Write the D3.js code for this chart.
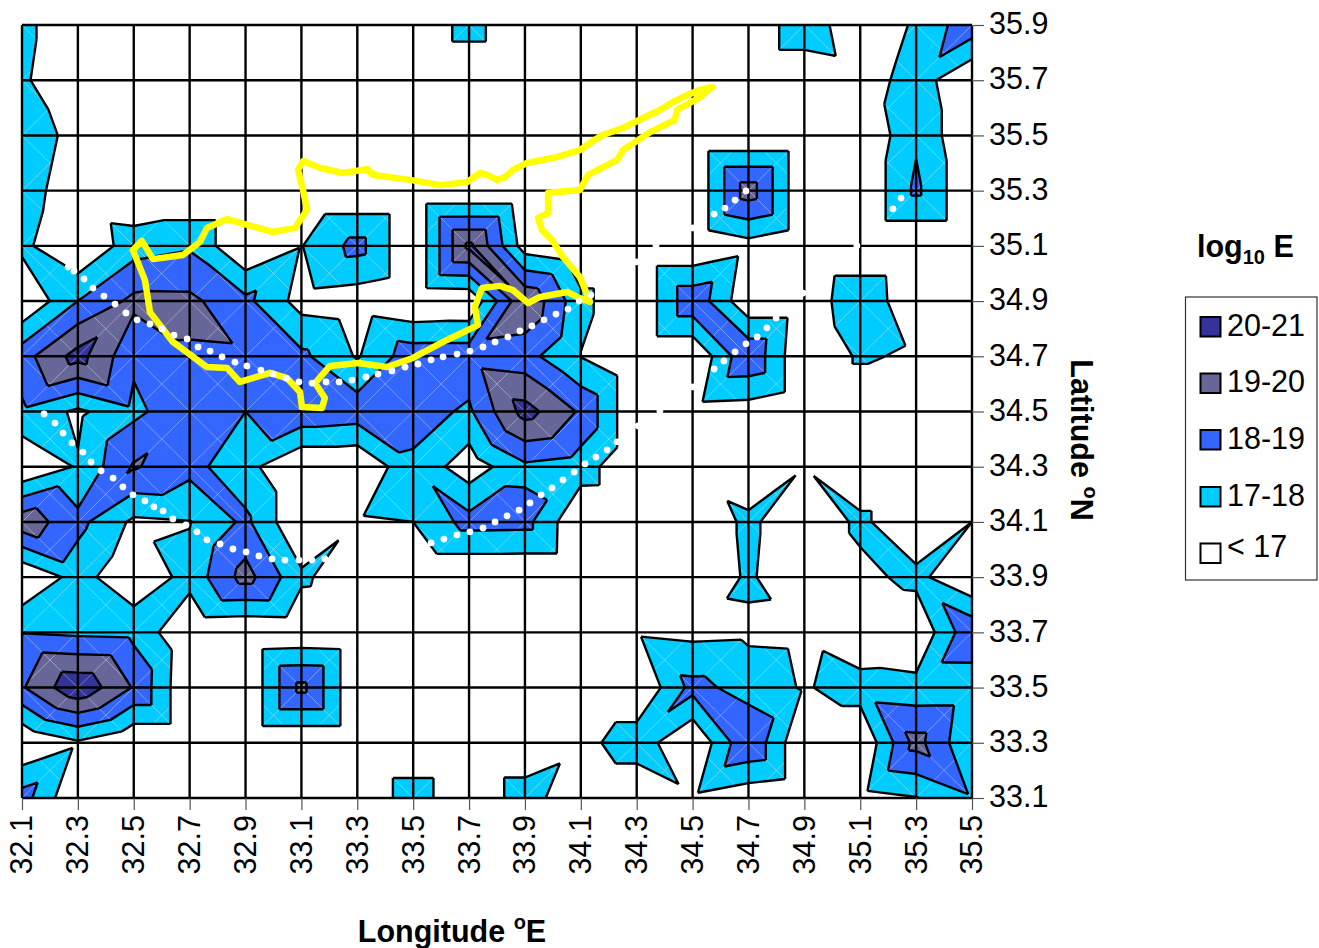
<!DOCTYPE html>
<html><head><meta charset="utf-8">
<script src="https://cdn.jsdelivr.net/npm/d3@7"></script>
<style>html,body{margin:0;padding:0;background:#fff}svg{display:block}text{font-family:"Liberation Sans",Arial,sans-serif;fill:#000}</style>
</head><body><div id="chart"></div>
<script>
const longitudes=[32.1,32.3,32.5,32.7,32.9,33.1,33.3,33.5,33.7,33.9,34.1,34.3,34.5,34.7,34.9,35.1,35.3,35.5];
const latitudes=[35.9,35.7,35.5,35.3,35.1,34.9,34.7,34.5,34.3,34.1,33.9,33.7,33.5,33.3,33.1];
const logE=[
[17.35,16,16,16,16,16,16,16,17.43,16,16,16,16,16,17.82,16,17.17,18.63],
[17.18,16,16,16,16,16,16,16,16,16,16,16,16,16,16,16.36,17.55,16],
[17.89,16.5,16,16,16,16,16,16,16,16,16,16,16,16,16,16,17.85,16],
[17.6,16.2,16,16,16,16,16,16,16,16,16,16,16,19.53,16,16,18.2,16],
[17.25,16,17.56,17.87,16,16.96,18.36,16,20.25,16.5,16,16,16,16.6,16,16,16,16],
[16,18,19.25,19.23,18.25,16.6,16.4,16,16.1,19.9,17.3,16,18.76,16.2,16.2,17.85,16.1,16],
[18.59,20.4,18.2,18.9,18.93,18.22,16.9,18.62,18.6,18.37,16.97,16,16,18.85,16,17.16,16.8,16],
[17.8,16.8,17.76,18.7,18,18.77,18.58,18.42,17.84,20.4,18.86,16,16.6,16.5,16,16,16,16],
[16,17.1,19.1,18.33,17.33,16,16,17.8,16.4,17.8,17.5,16,16.56,16,16.95,16,16,16],
[19.65,18.3,16.8,16.95,18.22,16,16.9,17,18.37,18.33,16.05,16,16,17.27,16,17.25,16,17],
[16,17.4,16.2,17.36,19.4,17.2,16.25,16,16,16,16,16,16,17.17,16,16.7,17.3,16],
[17.95,17.8,17.72,16.1,16,16.1,16,16,16,16,16,16.89,16.73,16.8,16.75,16,16.1,18.8],
[18.9,20.82,18.92,16,16,19.3,16,16,16,16,16,16,18.32,17.6,16.9,17.5,17.33,17.35],
[16,16.85,16,16,16,16,16,16,16,16,16.65,17.6,16,18.9,16,16,19.37,17.05],
[18.45,16,16,16,16,16,16,17.57,16,17.59,16,16,16.8,16.3,16,16.65,16.95,17.9]
];
const bandLabels=["20-21","19-20","18-19","17-18","< 17"];
const bandColors=["#333399","#666699","#3366FF","#00CCFF","#FFFFFF"];
const bandLows=[20,19,18,17];
const bandHighs=[21,20,19,18];
const coastLon=[34.570,34.527,34.480,34.430,34.383,34.323,34.251,34.179,34.133,34.097,34.000,33.907,33.857,33.829,33.800,33.764,33.739,33.693,33.596,33.489,33.356,33.335,33.249,33.167,33.106,33.088,33.106,33.120,33.077,32.998,32.834,32.762,32.737,32.676,32.569,32.529,32.497,32.540,32.558,32.640,32.762,32.834,32.880,32.988,33.048,33.095,33.102,33.174,33.184,33.149,33.202,33.303,33.406,33.499,33.621,33.732,33.721,33.746,33.811,33.857,33.911,33.954,34.051,34.086,34.133,34.097,34.036,33.997,33.961,33.947,33.983,33.983,34.097,34.126,34.230,34.251,34.348,34.437,34.444,34.527,34.570];
const coastLat=[35.675,35.665,35.646,35.621,35.592,35.563,35.527,35.502,35.473,35.447,35.418,35.400,35.375,35.349,35.339,35.357,35.364,35.331,35.320,35.339,35.357,35.378,35.364,35.382,35.407,35.375,35.302,35.230,35.165,35.150,35.197,35.165,35.114,35.067,35.052,35.118,35.085,34.976,34.860,34.752,34.661,34.658,34.607,34.640,34.621,34.571,34.516,34.513,34.549,34.603,34.665,34.676,34.661,34.694,34.759,34.813,34.879,34.947,34.955,34.940,34.893,34.915,34.933,34.915,34.897,34.987,35.060,35.121,35.157,35.201,35.219,35.292,35.302,35.357,35.411,35.447,35.512,35.556,35.592,35.639,35.675];
const dotsALon=[32.265,32.286,32.322,32.354,32.393,32.433,32.472,32.512,32.558,32.601,32.644,32.691,32.730,32.773,32.816,32.862,32.905,32.955,32.998,33.045,33.091,33.138,33.188,33.235,33.281,33.331,33.374,33.424,33.471,33.517,33.564,33.607,33.657,33.703,33.750,33.793,33.839,33.882,33.925,33.968,34.011,34.054,34.094,34.136,34.301,34.369,34.501,34.577,34.616,34.652,34.691];
const dotsALat=[35.023,35.009,34.980,34.947,34.918,34.889,34.857,34.832,34.817,34.799,34.777,34.763,34.734,34.719,34.698,34.679,34.665,34.650,34.636,34.621,34.607,34.603,34.607,34.607,34.614,34.625,34.636,34.647,34.661,34.672,34.687,34.698,34.708,34.719,34.734,34.752,34.770,34.792,34.810,34.832,34.853,34.871,34.900,34.922,35.042,35.100,35.165,35.215,35.237,35.266,35.299];
const dotsBLon=[32.179,32.218,32.247,32.279,32.318,32.347,32.383,32.426,32.461,32.497,32.540,32.572,32.605,32.640,32.687,32.726,32.762,32.809,32.855,32.902,32.948,32.995,33.041,33.091,33.138,33.184,33.564,33.610,33.657,33.703,33.750,33.793,33.836,33.879,33.918,33.958,33.997,34.036,34.076,34.115,34.154,34.194,34.230,34.305,34.383,34.501,34.577,34.612,34.652,34.691,34.731,34.766,34.799,34.895,35.088,35.217,35.246];
const dotsBLat=[34.491,34.458,34.422,34.386,34.353,34.317,34.285,34.259,34.227,34.198,34.176,34.154,34.140,34.111,34.089,34.064,34.035,34.020,34.002,33.991,33.977,33.966,33.962,33.962,33.962,33.966,34.024,34.038,34.053,34.064,34.078,34.100,34.122,34.143,34.169,34.198,34.223,34.252,34.281,34.310,34.335,34.361,34.390,34.448,34.502,34.589,34.654,34.683,34.716,34.745,34.770,34.803,34.839,34.929,35.100,35.234,35.273];

const W=1319,H=948;
const x=d3.scaleLinear().domain([32.1,35.5]).range([22,972]);
const y=d3.scaleLinear().domain([33.1,35.9]).range([798,25]);
const svg=d3.select("#chart").append("svg").attr("width",W).attr("height",H);

// Each grid cell is split into four triangles around its centre (as in a spreadsheet surface chart)
const triangles=[];
for(let r=0;r<latitudes.length-1;r++){
  for(let c=0;c<longitudes.length-1;c++){
    const a=[longitudes[c],latitudes[r],logE[r][c]],
          b=[longitudes[c+1],latitudes[r],logE[r][c+1]],
          e=[longitudes[c+1],latitudes[r+1],logE[r+1][c+1]],
          d=[longitudes[c],latitudes[r+1],logE[r+1][c]];
    const m=[(a[0]+b[0])/2,(a[1]+d[1])/2,Math.max((a[2]+e[2])/2,(b[2]+d[2])/2)];
    triangles.push([a,b,m],[b,e,m],[e,d,m],[d,a,m]);
  }
}
const at=(p,q,L)=>{const t=(L-p[2])/(q[2]-p[2]);return [p[0]+t*(q[0]-p[0]),p[1]+t*(q[1]-p[1]),L];};
function clip(poly,L,keepAbove){
  const out=[];
  const ins=p=>keepAbove?p[2]>=L:p[2]<=L;
  poly.forEach((p,i)=>{
    const q=poly[(i+1)%poly.length];
    if(ins(p))out.push(p);
    if(ins(p)!==ins(q))out.push(at(p,q,L));
  });
  return out;
}
const line=d3.line().x(p=>x(p[0])).y(p=>y(p[1]));
const gFill=svg.append("g");
bandLows.slice().reverse().forEach((lo,i)=>{
  const k=bandLows.length-1-i;
  triangles.forEach(t=>{
    let poly=clip(t,lo,true);
    if(poly.length>2)poly=clip(poly,bandHighs[k],false);
    if(poly.length>2)gFill.append("path").attr("d",line(poly)+"Z").attr("fill",bandColors[k]);
  });
});
// faint seams along the triangle edges, as the original rendering shows them
const seams=[];
triangles.forEach(t=>seams.push(line([t[1],t[2]])));
svg.append("path").attr("d",seams.join("")).attr("fill","none").attr("stroke","#fff").attr("stroke-opacity",0.22).attr("stroke-width",0.7);
// contour lines
const gLines=svg.append("g").attr("fill","none").attr("stroke","#000").attr("stroke-width",2.4).attr("stroke-linejoin","round");
bandLows.forEach(L=>{
  const segs=[];
  triangles.forEach(t=>{
    const pts=[];
    t.forEach((p,i)=>{const q=t[(i+1)%3];if((p[2]<L)!==(q[2]<L))pts.push(at(p,q,L));});
    if(pts.length===2)segs.push(line(pts));
  });
  gLines.append("path").attr("d",segs.join(""));
});
// grid
const gGrid=svg.append("g").attr("stroke","#000").attr("stroke-width",2.4);
longitudes.forEach(v=>gGrid.append("line").attr("x1",x(v)).attr("x2",x(v)).attr("y1",y(35.9)).attr("y2",y(33.1)));
latitudes.forEach(v=>gGrid.append("line").attr("x1",x(32.1)).attr("x2",x(35.5)).attr("y1",y(v)).attr("y2",y(v)));
// axes
const axR=svg.append("g").attr("transform",`translate(${x(35.5)},0)`)
  .call(d3.axisRight(y).tickValues(latitudes).tickSize(12).tickPadding(5).tickFormat(d3.format(".1f")));
const axB=svg.append("g").attr("transform",`translate(0,${y(33.1)})`)
  .call(d3.axisBottom(x).tickValues(longitudes).tickSize(12).tickFormat(d3.format(".1f")));
[axR,axB].forEach(a=>{a.select(".domain").remove();a.selectAll("line").attr("stroke","#555").attr("stroke-width",1.2);
  a.selectAll("text").style("font-size","30.5px").style("font-family",'"Liberation Sans",Arial,sans-serif').attr("fill","#000");});
axR.selectAll("text").attr("y",-1);
axB.selectAll("text").attr("text-anchor","end").attr("transform","rotate(-90)").attr("x",-17).attr("y",-1).attr("dy","0.36em");
// coast and dotted shorelines
svg.append("path").attr("d",d3.line().x((d,i)=>x(coastLon[i])).y((d,i)=>y(coastLat[i]))(coastLon))
  .attr("fill","none").attr("stroke","#FFFF00").attr("stroke-width",6.5).attr("stroke-linejoin","round").attr("stroke-linecap","round");
const dots=svg.append("g").attr("fill","#fff");
[[dotsALon,dotsALat],[dotsBLon,dotsBLat]].forEach(([lo,la])=>lo.forEach((v,i)=>dots.append("circle").attr("cx",x(v)).attr("cy",y(la[i])).attr("r",3.4)));
// axis titles
const tx=svg.append("text").attr("x",452).attr("y",942).attr("text-anchor","middle").style("font-size","30.5px").style("font-weight","bold");
tx.append("tspan").text("Longitude ");
tx.append("tspan").text("o").attr("dy",-13).style("font-size","20px");
tx.append("tspan").text("E").attr("dy",13);
const ty=svg.append("text").attr("transform","translate(1071,440) rotate(90)").attr("text-anchor","middle").style("font-size","30.5px").style("font-weight","bold");
ty.append("tspan").text("Latitude ");
ty.append("tspan").text("o").attr("dy",-13).style("font-size","20px");
ty.append("tspan").text("N").attr("dy",13);
// legend
const lt=svg.append("text").attr("x",1197).attr("y",257).style("font-size","30.5px").style("font-weight","bold");
lt.append("tspan").text("log");
lt.append("tspan").text("10").attr("dy",7).style("font-size","20px");
lt.append("tspan").text(" E").attr("dy",-7);
svg.append("rect").attr("x",1185.5).attr("y",297).attr("width",131.5).attr("height",283).attr("fill","#fff").attr("stroke","#333").attr("stroke-width",1.2);
const swTop=[317,373.5,430,487,543.5], txtBase=[336,392,449,506,557];
bandLabels.forEach((s,i)=>{
  svg.append("rect").attr("x",1200.5).attr("y",swTop[i]).attr("width",20).attr("height",19.5).attr("fill",bandColors[i]).attr("stroke","#000").attr("stroke-width",2);
  svg.append("text").attr("x",1227).attr("y",txtBase[i]).text(s).style("font-size","30.5px");
});
</script></body></html>
